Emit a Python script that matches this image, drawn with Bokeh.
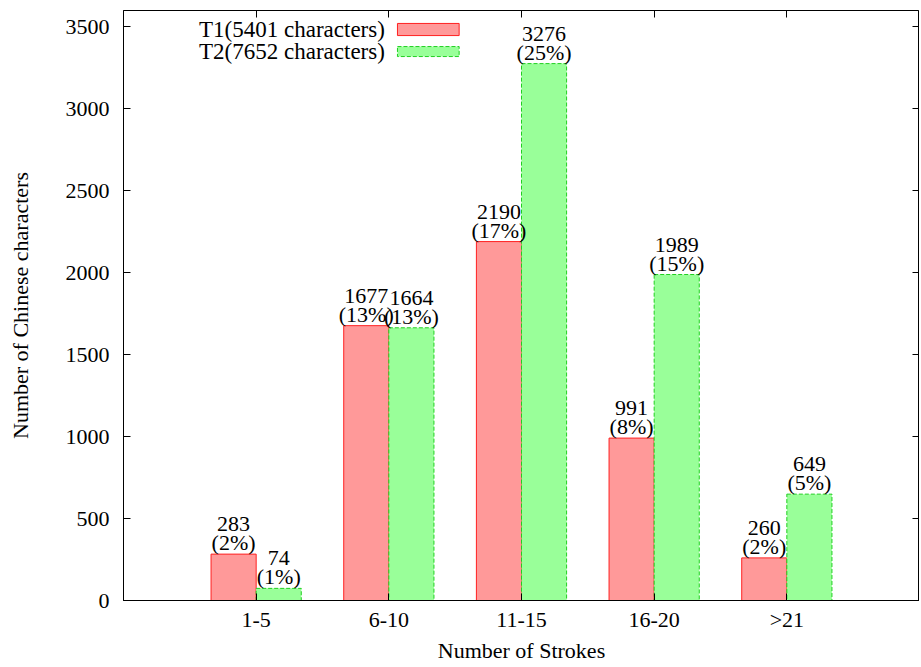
import numpy as np
from bokeh.plotting import figure
from bokeh.models import (ColumnDataSource, LinearAxis, FixedTicker, Range1d,
                          Label, BoxAnnotation, CustomJSTickFormatter)
from bokeh.embed import file_html
from bokeh.resources import INLINE
from bokeh.core.properties import value

categories = ["1-5", "6-10", "11-15", "16-20", ">21"]
t1_counts = [283, 1677, 2190, 991, 260]
t1_pcts = ["(2%)", "(13%)", "(17%)", "(8%)", "(2%)"]
t2_counts = [74, 1664, 3276, 1989, 649]
t2_pcts = ["(1%)", "(13%)", "(25%)", "(15%)", "(5%)"]
series_names = ["T1(5401 characters)", "T2(7652 characters)"]
y_ticks = [0, 500, 1000, 1500, 2000, 2500, 3000, 3500]

FONT = "Liberation Serif"
FS = "22px"
BW = 0.34
X_END = len(categories) + 1
Y_END = 3600

pos = np.arange(1, len(categories) + 1)

p = figure(width=919, height=665, output_backend="svg", toolbar_location=None,
           x_range=Range1d(0, X_END), y_range=Range1d(0, Y_END),
           min_border_left=123, min_border_right=0, min_border_top=10,
           min_border_bottom=0)
p.xgrid.visible = False
p.ygrid.visible = False
p.outline_line_color = "black"
p.outline_line_width = 1
p.background_fill_color = "white"
p.border_fill_color = "white"

src1 = ColumnDataSource(dict(x=pos - BW / 2, top=t1_counts,
                             cnt=[str(v) for v in t1_counts], pct=t1_pcts))
src2 = ColumnDataSource(dict(x=pos + BW / 2, top=t2_counts,
                             cnt=[str(v) for v in t2_counts], pct=t2_pcts))

p.vbar(x="x", top="top", bottom=0, width=BW, source=src1,
       fill_color="#ff9999", line_color="#ff2020", line_width=1)
p.vbar(x="x", top="top", bottom=0, width=BW, source=src2,
       fill_color="#99ff99", line_color="#20d020", line_width=1, line_dash="4 2")

for src in (src1, src2):
    p.text(x="x", y="top", text="pct", source=src, text_align="center",
           text_baseline="bottom", y_offset=1, text_font=value(FONT),
           text_font_size=FS, text_color="black")
    p.text(x="x", y="top", text="cnt", source=src, text_align="center",
           text_baseline="bottom", y_offset=-23, text_font=value(FONT),
           text_font_size=FS, text_color="black")

# axes
p.xaxis.ticker = FixedTicker(ticks=list(pos))
p.xaxis.major_label_overrides = {int(k): c for k, c in zip(pos, categories)}
p.yaxis.ticker = FixedTicker(ticks=y_ticks)
for ax in (p.xaxis[0], p.yaxis[0]):
    ax.major_tick_in = 7
    ax.major_tick_out = 0
    ax.minor_tick_in = 0
    ax.minor_tick_out = 0
    ax.axis_line_color = "black"
    ax.major_tick_line_color = "black"
    ax.major_label_text_font = FONT
    ax.major_label_text_font_size = FS
    ax.major_label_text_color = "black"
    ax.major_label_text_line_height = 1.0
    ax.axis_label_text_font = FONT
    ax.axis_label_text_font_size = FS
    ax.axis_label_text_font_style = "normal"
    ax.axis_label_text_color = "black"
    ax.axis_label_text_line_height = 1.0
p.xaxis.axis_label = "Number of Strokes"
p.yaxis.axis_label = "Number of Chinese characters"
p.xaxis.major_label_standoff = 6
p.xaxis.axis_label_standoff = 3
p.yaxis.major_label_standoff = 14
p.yaxis.axis_label_standoff = 30

blank = CustomJSTickFormatter(code="return ''")
top_ax = LinearAxis(ticker=FixedTicker(ticks=list(pos)), major_tick_in=7,
                    major_tick_out=0, minor_tick_in=0, minor_tick_out=0,
                    formatter=blank, major_label_standoff=0,
                    axis_line_color="black", fixed_location=Y_END)
p.add_layout(top_ax, "above")
right_ax = LinearAxis(ticker=FixedTicker(ticks=y_ticks), major_tick_in=7,
                      major_tick_out=0, minor_tick_in=0, minor_tick_out=0,
                      formatter=blank, major_label_standoff=0,
                      axis_line_color="black", fixed_location=X_END)
p.add_layout(right_ax, "right")

# legend (label left, sample right, as in the reference)
leg_rows = [(3484, 3521, 3447, "#ff9999", "#ff2020", "solid"),
            (3350, 3380, 3319, "#99ff99", "#20d020", "4 2")]
for name, (ty, btop, bbot, fc, lc, dash) in zip(series_names, leg_rows):
    p.add_layout(Label(x=1.97, y=ty, text=name, text_align="right",
                       text_baseline="middle", text_font=FONT,
                       text_font_size="23px", text_color="black"))
    p.add_layout(BoxAnnotation(left=2.065, right=2.53, top=btop, bottom=bbot,
                               fill_color=fc, fill_alpha=1, line_color=lc,
                               line_width=1, line_dash=dash, line_alpha=1))

open("out.html", "w").write(file_html(p, INLINE))
